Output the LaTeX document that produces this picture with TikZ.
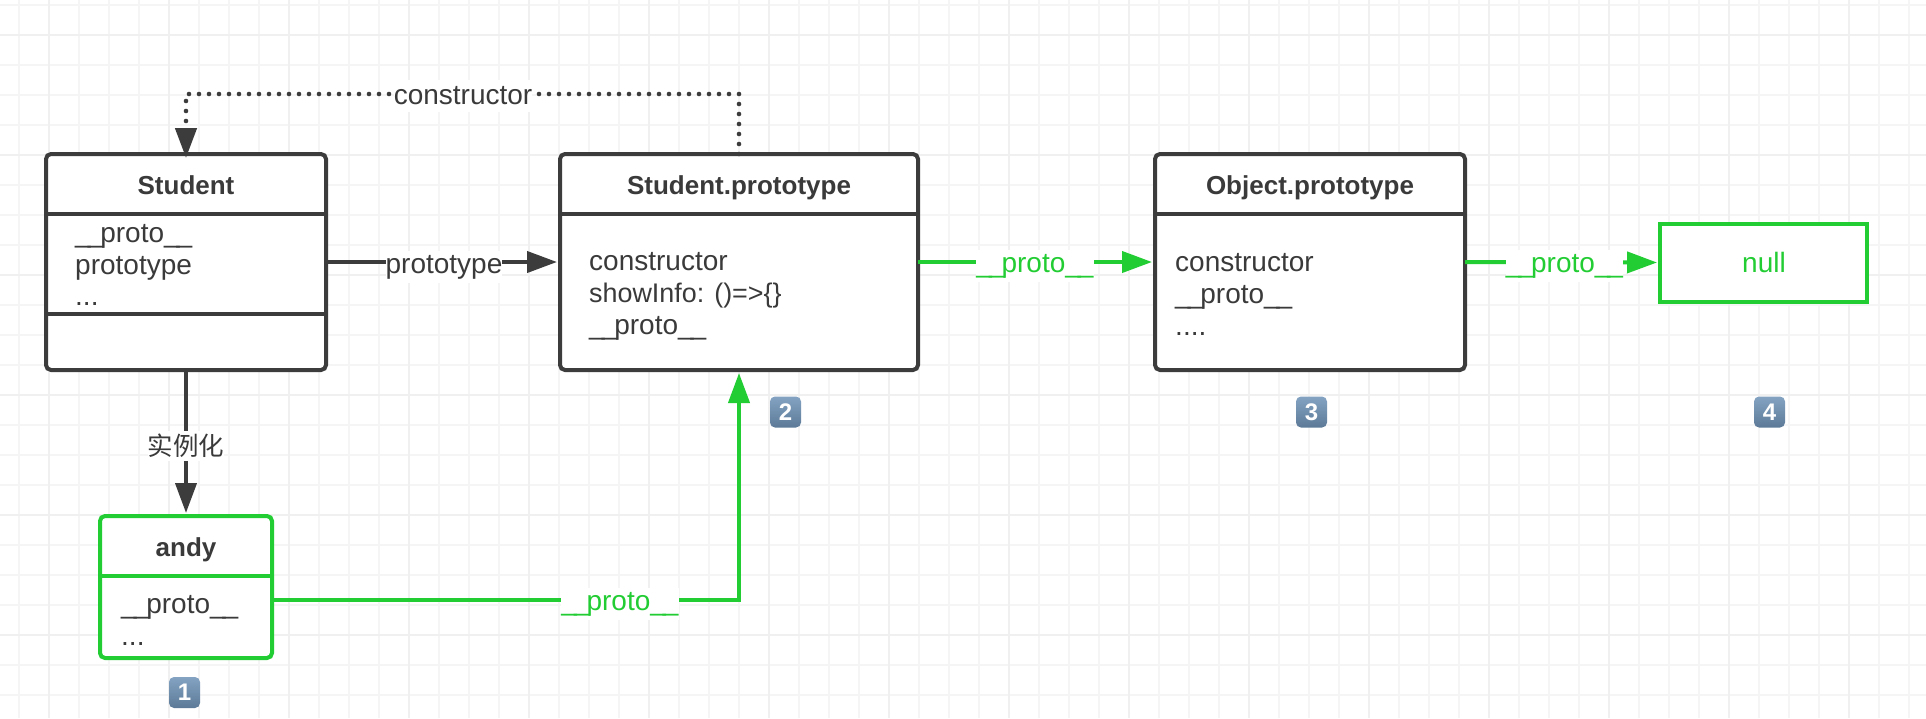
\documentclass[tikz,border=0pt]{standalone}
\usepackage{fontspec}
\setmainfont{Liberation Sans}
\newfontfamily\cjk{Noto Sans CJK SC}
\usetikzlibrary{arrows.meta,calc}
\definecolor{ink}{HTML}{3C3C3C}
\definecolor{txt}{HTML}{3A3A3A}
\definecolor{grn}{HTML}{22CC33}
\definecolor{badgetop}{HTML}{84A3C2}
\definecolor{badgebot}{HTML}{5C7A98}
\newcommand\ubar{\_\kern-3pt}
\newcommand\protolbl{\ubar\ubar proto\ubar\_}
\tikzset{
  x=1pt,y=-1pt,
  gridminor/.style={draw=black!4,line width=2pt},
  gridmajor/.style={draw=black!6,line width=2.5pt},
  box/.style={draw=ink,fill=white,line width=4pt,rounded corners=5pt,inner sep=0,outer sep=0},
  greenbox/.style={box,draw=grn},
  sep/.style={draw=ink,line width=4pt},
  title/.style={anchor=base,inner sep=0,text=txt,font=\fontsize{26}{30}\selectfont\bfseries},
  body/.style={anchor=base west,inner sep=0,text=txt,font=\fontsize{28}{32}\selectfont},
  lbl/.style={fill=white,inner sep=0,minimum height=32pt,text=txt,font=\fontsize{28}{32}\selectfont},
  glbl/.style={lbl,text=grn},
  darrow/.style={draw=ink,line width=4pt,-{Triangle[length=30pt,width=21pt]}},
  garrow/.style={draw=grn,line width=4pt,-{Triangle[length=30pt,width=21pt]}},
  badge/.style={rounded corners=5pt,inner sep=0,outer sep=0,minimum width=31pt,minimum height=31pt,
    top color=badgetop,bottom color=badgebot,text=white,font=\fontsize{24}{30}\selectfont\bfseries},
}
\begin{document}
\begin{tikzpicture}
\useasboundingbox (0,0) rectangle (1926,718);
\fill[white] (0,0) rectangle (1926,718);
% grid
\foreach \gx in {19,49,...,1909} \draw[gridminor] (\gx,0) -- (\gx,718);
\foreach \gy in {5,35,...,695} \draw[gridminor] (0,\gy) -- (1926,\gy);
\foreach \gx in {49,169,...,1909} \draw[gridmajor] (\gx,0) -- (\gx,718);
\foreach \gy in {35,155,...,695} \draw[gridmajor] (0,\gy) -- (1926,\gy);
% boxes
\node[box,minimum width=280pt,minimum height=216pt] (student) at (186,262) {};
\node[box,minimum width=358pt,minimum height=216pt] (sproto) at (739,262) {};
\node[box,minimum width=310pt,minimum height=216pt] (oproto) at (1310,262) {};
\node[greenbox,minimum width=172pt,minimum height=142pt] (andy) at (186,587) {};
\node[greenbox,rounded corners=0pt,minimum width=207pt,minimum height=78pt] (nullbox) at (1763.5,262.5) {};
% dividers
\draw[sep] ($(student.north west)+(0,60)$) -- ($(student.north east)+(0,60)$);
\draw[sep] ($(student.north west)+(0,160)$) -- ($(student.north east)+(0,160)$);
\draw[sep] ($(sproto.north west)+(0,60)$) -- ($(sproto.north east)+(0,60)$);
\draw[sep] ($(oproto.north west)+(0,60)$) -- ($(oproto.north east)+(0,60)$);
\draw[sep,draw=grn] ($(andy.north west)+(0,60)$) -- ($(andy.north east)+(0,60)$);
% titles
\node[title] (tstudent) at (186,194) {Student};
\node[title] (tsproto) at (739,194) {Student.prototype};
\node[title] (toproto) at (1310,194) {Object.prototype};
\node[title] (tandy) at (186,556) {andy};
% body text
\node[body] (s1) at (75,242) {\protolbl};
\node[body] (s2) at (75,274) {prototype};
\node[body] (s3) at (75,305) {...};
\node[body] (p1) at (589,270) {constructor};
\node[body,font=\fontsize{26.9}{32}\selectfont] (p2) at (589,302) {showInfo: ()=>\{\}};
\node[body] (p3) at (589,334) {\protolbl};
\node[body] (o1) at (1175,271) {constructor};
\node[body] (o2) at (1175,303) {\protolbl};
\node[body] (o3) at (1175,335) {....};
\node[body] (a1) at (121,613) {\protolbl};
\node[body] (a2) at (121,645) {...};
\node[anchor=base,inner sep=0,text=grn,font=\fontsize{28}{32}\selectfont] (tnull) at (1764,272) {null};
% connectors
\coordinate (ctop) at (463,94);
\coordinate (agreen) at (272,600);
\draw[darrow,line width=4.6pt,dash pattern=on 0pt off 10pt,line cap=round] (sproto.north) -- (sproto.north |- ctop) -- (student.north |- ctop) -- ([yshift=-4pt]student.north);
\draw[darrow,shorten >=3pt] (student.east) -- (sproto.west);
\draw[darrow,shorten >=3pt] (student.south) -- (andy.north);
\draw[garrow,shorten >=3pt] (sproto.east) -- (oproto.west);
\draw[garrow,shorten >=3pt] (oproto.east) -- (nullbox.west);
\draw[garrow,shorten >=3pt] (agreen) -- (sproto.south |- agreen) -- (sproto.south);
% connector labels
\node[lbl] (lctor) at (463,96) {constructor};
\node[lbl] (lproto) at (444,267) {prototype};
\node[lbl,font=\cjk\fontsize{25.5}{30}\selectfont,minimum height=30pt] (lnew) at (186,446) {实例化};
\node[glbl] (l1) at (620,604) {\protolbl};
\node[glbl] (l2) at (1035,266) {\protolbl};
\node[glbl] (l3) at (1564.5,266) {\protolbl};
% badges
\node[badge] (b1) at (184.5,692.5) {1};
\node[badge] (b2) at (785.5,412) {2};
\node[badge] (b3) at (1311.5,412) {3};
\node[badge] (b4) at (1769.5,412) {4};
\end{tikzpicture}
\end{document}
